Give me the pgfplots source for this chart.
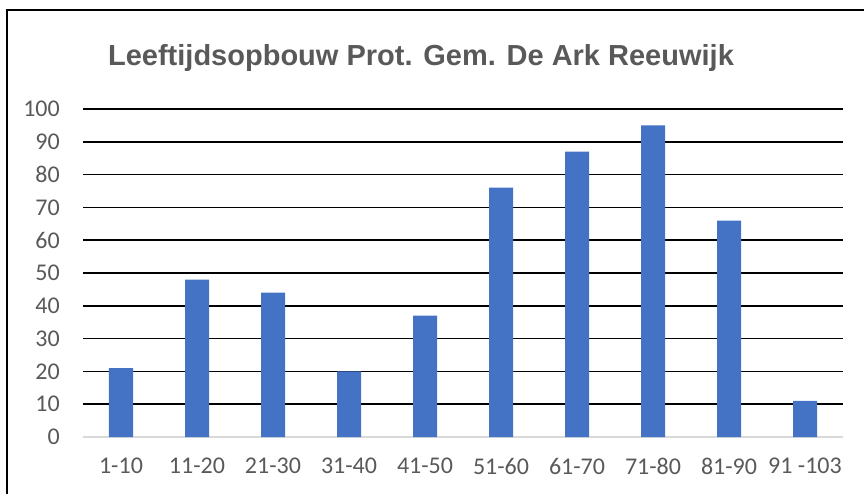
\documentclass[border=0pt]{standalone}
\usepackage{pgfplots}
\pgfplotsset{compat=1.18}
\usepackage{fontspec}
\setmainfont{Carlito}
\newfontfamily\titlefont{Liberation Sans}
\definecolor{barblue}{HTML}{4472C4}
\definecolor{txtgray}{HTML}{595959}
\definecolor{zerogray}{HTML}{D9D9D9}
\begin{document}
\begin{tikzpicture}
\useasboundingbox (-83pt,-56pt) rectangle (781pt,437pt);
\draw[line width=2pt] (-76pt,-70pt) -- (-76pt,427pt) -- (800pt,427pt);
\node[font=\titlefont\bfseries\fontsize{29}{34}\selectfont, text=txtgray, inner sep=0pt] at (338pt,379pt) {Leeftijdsopbouw Prot. Gem. De Ark Reeuwijk};
\begin{axis}[
  at={(0pt,0pt)}, anchor=south west,
  scale only axis, width=760pt, height=328pt,
  xmin=0.5, xmax=10.5, ymin=0, ymax=100,
  axis line style={draw=none},
  major tick length=0pt,
  xtick={1,...,10},
  xticklabels={1-10,11-20,21-30,31-40,41-50,51-60,61-70,71-80,81-90,91 -103},
  ytick={10,20,...,100},
  extra y ticks={0},
  extra y tick style={grid style={color=zerogray, line width=1.6pt}},
  ymajorgrids,
  grid style={black, line width=1.7pt},
  tick label style={font=\fontsize{24}{28}\selectfont, text=txtgray, inner sep=0pt},
  yticklabel style={anchor=east, xshift=-23pt},
  xticklabel style={anchor=north, yshift=-21pt},
  /pgf/number format/assume math mode=true,
  ybar, bar width=24pt,
]
\addplot[fill=barblue, draw=none] coordinates {(1,21) (2,48) (3,44) (4,20) (5,37) (6,76) (7,87) (8,95) (9,66) (10,11)};
\end{axis}
\end{tikzpicture}
\end{document}
